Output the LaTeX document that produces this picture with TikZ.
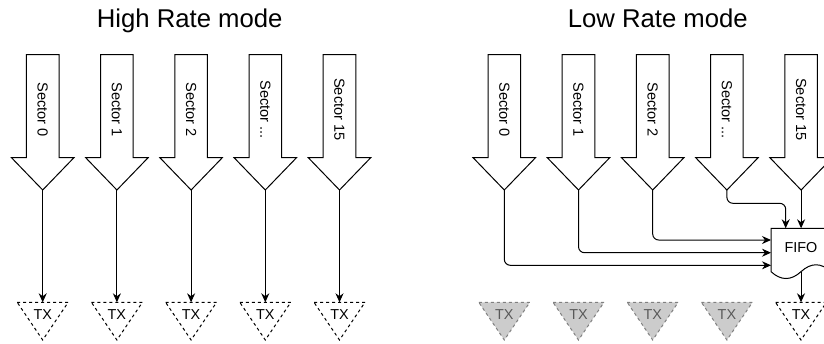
\documentclass[tikz,border=0pt]{standalone}
\usepackage{fontspec}
\setmainfont{Liberation Sans}
\usetikzlibrary{arrows.meta}
\begin{document}
\begin{tikzpicture}[x=1pt,y=-1pt,line width=1pt,
  titlefont/.style={font=\fontsize{25.7}{30}\selectfont,anchor=base,inner sep=0pt},
  seclabel/.style={font=\fontsize{14.6}{17}\selectfont,inner sep=0pt,rotate=-90},
  smalltext/.style={font=\fontsize{14.4}{17}\selectfont,inner sep=0pt},
  blockarrow/.style={draw=black,fill=white,line join=miter},
  conn/.style={draw=black,-{Stealth[length=9pt,width=8pt]},rounded corners=6pt},
  txon/.style={draw=black,fill=white,dash pattern=on 3pt off 3pt,line join=miter},
  txoff/.style={draw=black!50,fill=black!20,dash pattern=on 3pt off 3pt,line join=miter},
  fifostyle/.style={draw=black,fill=white}
]
\useasboundingbox (0,0) rectangle (824,343);
\clip (0,0) rectangle (824,343);

% titles
\node[titlefont] (titleH) at (189.7,27.3) {High Rate mode};
\node[titlefont] (titleL) at (657.8,27.3) {Low Rate mode};

% block arrows, labels
\foreach \side/\off in {L/0,R/461.6}{
  \foreach \i/\txt in {0/{Sector 0},1/{Sector 1},2/{Sector 2},3/{Sector .{}.{}.},4/{Sector 15}}{
    \pgfmathsetmacro{\cx}{42.7+74.2*\i+\off}
    \draw[blockarrow] (\cx-16.3,54.7) -- (\cx+16.3,54.7) -- (\cx+16.3,157.7)
      -- (\cx+31.2,157.7) -- (\cx,190) -- (\cx-31.2,157.7) -- (\cx-16.3,157.7) -- cycle;
    \coordinate (tip\side\i) at (\cx,190);
    \node[seclabel] (sec\side\i) at (\cx,109.5) {\txt};
    \coordinate (txtop\side\i) at (\cx,302.3);
  }
}

% TX triangles (left: all active)
\foreach \i in {0,1,2,3,4}{
  \pgfmathsetmacro{\cx}{42.7+74.2*\i}
  \draw[txon] (\cx-25.5,302.3) -- (\cx+25.5,302.3) -- (\cx,340) -- cycle;
  \node[smalltext] (txL\i) at (\cx,315) {TX};
  \draw[conn] (tipL\i) -- (txtopL\i);
}
% TX triangles (right: four inactive, one active)
\foreach \i in {0,1,2,3}{
  \pgfmathsetmacro{\cx}{42.7+74.2*\i+461.6}
  \draw[txoff] (\cx-25.5,302.3) -- (\cx+25.5,302.3) -- (\cx,340) -- cycle;
  \node[smalltext,text=black!65] (txR\i) at (\cx,315) {TX};
}
\draw[txon] (801-25.5,302.3) -- (801+25.5,302.3) -- (801,340) -- cycle;
\node[smalltext] (txR4) at (801,315) {TX};
\coordinate (txtopF) at (801,302.3);

% FIFO
\draw[fifostyle] (771,228.3) -- (831,228.3) -- (831,271.65)
  .. controls (821,262.5) and (811,262.5) .. (801,271.65)
  .. controls (791,280.8) and (781,280.8) .. (771,271.65) -- cycle;
\node[smalltext] (fifo) at (801,247.7) {FIFO};
\coordinate (fin0) at (771,265.3);
\coordinate (fin1) at (771,252.7);
\coordinate (fin2) at (771,240);
\coordinate (fin3) at (785.7,228.3);
\coordinate (fin4) at (801,228.3);
\coordinate (fout) at (801,271.65);
\coordinate (bend3) at (757,203.3);

% connectors into FIFO
\draw[conn] (tipR0) |- (fin0);
\draw[conn] (tipR1) |- (fin1);
\draw[conn] (tipR2) |- (fin2);
\draw[conn] (tipR3) |- (bend3) -| (fin3);
\draw[conn] (tipR4) -- (tipR4 |- fin4);
\draw[conn] (fout) -- (txtopF);
\end{tikzpicture}
\end{document}
